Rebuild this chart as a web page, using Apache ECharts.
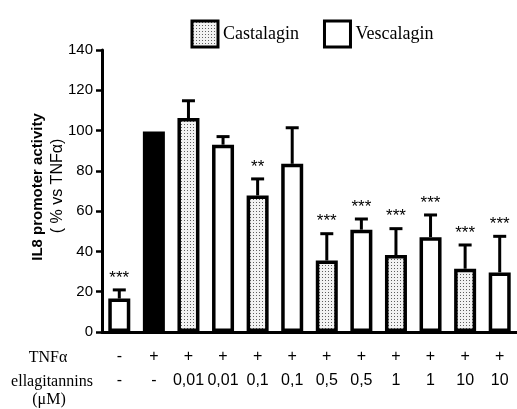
<!DOCTYPE html>
<html>
<head>
<meta charset="utf-8">
<script src="https://cdn.jsdelivr.net/npm/echarts@6/dist/echarts.min.js"></script>
<style>html,body{margin:0;padding:0;background:#fff;}#c{width:517px;height:409px;}</style>
</head>
<body>
<div id="c"></div>
<script>
// ---- data ----
const categories = ['c1','c2','c3','c4','c5','c6','c7','c8','c9','c10','c11','c12'];
const tnfLabels = ['-','+','+','+','+','+','+','+','+','+','+','+'];
const doseLabels = ['-','-','0,01','0,01','0,1','0,1','0,5','0,5','1','1','10','10'];
const groups = ['control','tnf','cast','vesc','cast','vesc','cast','vesc','cast','vesc','cast','vesc'];
const values = [16.6, 99.5, 106.2, 93.0, 67.8, 83.5, 35.5, 50.8, 38.2, 47.1, 31.4, 29.6];
const errorTop = [20.9, null, 114.8, 97.0, 76.0, 101.4, 48.8, 56.1, 51.3, 58.1, 43.2, 47.5];
const stars = ['***','','','','**','','***','***','***','***','***','***'];
const yTicks = [0, 20, 40, 60, 80, 100, 120, 140];

// dotted pattern
const pc = document.createElement('canvas');
pc.width = 3; pc.height = 3;
const pctx = pc.getContext('2d');
pctx.fillStyle = '#f2f2f2'; pctx.fillRect(0,0,3,3);
pctx.fillStyle = '#5e5e5e'; pctx.fillRect(1,1,1,1);
const dotFill = {image: pc, repeat: 'repeat'};

function pick(g){ return values.map((v,i)=> groups[i]===g ? v : '-'); }

const BW = 3.5;
const barBase = {type:'bar', barWidth:22, barGap:'-100%', animation:false};
const chart = echarts.init(document.getElementById('c'));
chart.setOption({
  animation:false,
  backgroundColor:'#fff',
  grid:{left:102, right:-10, top:50, bottom:77, containLabel:false},
  legend:{
    left:185.5, top:14.5, itemWidth:26, itemHeight:26, itemGap:24, icon:'rect',
    data:[
      {name:'Castalagin', itemStyle:{color:dotFill, borderColor:'#000', borderWidth:3}},
      {name:'Vescalagin', itemStyle:{color:'#fff', borderColor:'#000', borderWidth:3}}
    ],
    textStyle:{fontFamily:'Liberation Serif', fontSize:18, color:'#000', padding:[0,0,0,0]},
    selectedMode:false
  },
  xAxis:{
    type:'category', data:categories,
    axisLine:{lineStyle:{color:'#000', width:3}},
    axisTick:{alignWithLabel:true, length:6, lineStyle:{color:'#000', width:2.5}},
    axisLabel:{
      margin:13, interval:0,
      formatter:(v,i)=> '{a|'+tnfLabels[i]+'}\n{a|'+doseLabels[i]+'}',
      rich:{a:{fontFamily:'Liberation Sans', fontSize:16, color:'#000', lineHeight:24}}
    }
  },
  yAxis:{
    type:'value', min:0, max:140, interval:20,
    axisLine:{show:true, lineStyle:{color:'#000', width:3}},
    axisTick:{show:true, length:6, lineStyle:{color:'#000', width:2.5}},
    axisLabel:{fontFamily:'Liberation Sans', fontSize:15, color:'#000', margin:9,
      formatter:(v)=> yTicks.indexOf(v)>=0 ? String(v) : ''},
    splitLine:{show:false}
  },
  graphic:[
    {type:'text', x:38, y:187, rotation:Math.PI/2,
     style:{text:'IL8 promoter activity', font:'bold 15px "Liberation Sans"', fill:'#000', textAlign:'center', textVerticalAlign:'middle'}},
    {type:'text', x:58, y:186, rotation:Math.PI/2,
     style:{text:'( % vs TNFα)', font:'16px "Liberation Sans"', fill:'#000', textAlign:'center', textVerticalAlign:'middle'}},
    {type:'text', x:48, y:358,
     style:{text:'TNFα', font:'16px "Liberation Serif"', fill:'#000', textAlign:'center', textVerticalAlign:'middle'}},
    {type:'text', x:52, y:382,
     style:{text:'ellagitannins', font:'16px "Liberation Serif"', fill:'#000', textAlign:'center', textVerticalAlign:'middle'}},
    {type:'text', x:49, y:400,
     style:{text:'(μM)', font:'16px "Liberation Serif"', fill:'#000', textAlign:'center', textVerticalAlign:'middle'}}
  ],
  series:[
    Object.assign({}, barBase, {name:'Control', data:pick('control'), itemStyle:{color:'#fff', borderColor:'#000', borderWidth:BW}}),
    Object.assign({}, barBase, {name:'TNFα', data:pick('tnf'), itemStyle:{color:'#000', borderColor:'#000', borderWidth:BW}}),
    Object.assign({}, barBase, {name:'Castalagin', data:pick('cast'), itemStyle:{color:dotFill, borderColor:'#000', borderWidth:BW}}),
    Object.assign({}, barBase, {name:'Vescalagin', data:pick('vesc'), itemStyle:{color:'#fff', borderColor:'#000', borderWidth:BW}}),
    {
      type:'custom', name:'err', z:5,
      data: values.map((v,i)=>[i, v, errorTop[i]==null ? v : errorTop[i]]),
      renderItem:function(params, api){
        const i = api.value(0);
        const base = api.coord([i, api.value(1)]);
        const top = api.coord([i, api.value(2)]);
        const children = [];
        if (errorTop[i] != null) {
          children.push({type:'line', shape:{x1:base[0], y1:base[1], x2:top[0], y2:top[1]}, style:{stroke:'#000', lineWidth:3}});
          children.push({type:'line', shape:{x1:top[0]-6.5, y1:top[1], x2:top[0]+6.5, y2:top[1]}, style:{stroke:'#000', lineWidth:3}});
        }
        if (stars[i]) {
          children.push({type:'text', x:top[0], y:top[1]-12,
            style:{text:stars[i], font:'17px "Liberation Sans"', fill:'#000', textAlign:'center', textVerticalAlign:'middle'}});
        }
        return {type:'group', children:children};
      }
    }
  ]
});
</script>
</body>
</html>
